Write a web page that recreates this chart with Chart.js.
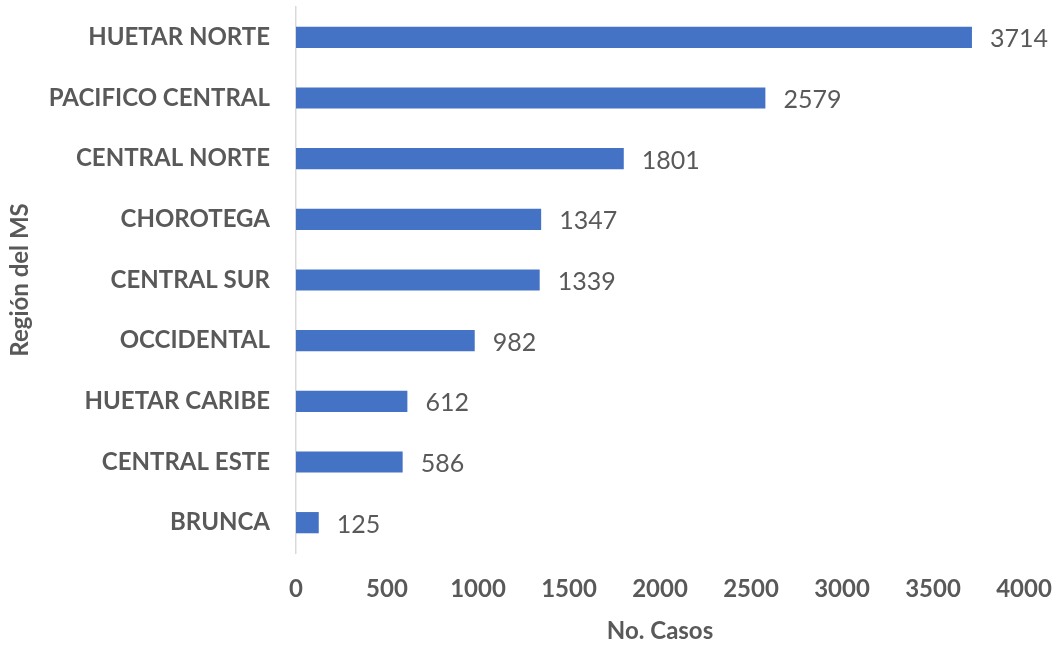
<!DOCTYPE html>
<html><head><meta charset="utf-8">
<script src="https://cdn.jsdelivr.net/npm/chart.js@4/dist/chart.umd.min.js"></script>
<style>html,body{margin:0;padding:0;background:#fff}#wrap{width:1057px;height:646px}</style>
</head><body><div id="wrap"><canvas id="c"></canvas></div>
<script>
const categories = ["HUETAR NORTE","PACIFICO CENTRAL","CENTRAL NORTE","CHOROTEGA","CENTRAL SUR","OCCIDENTAL","HUETAR CARIBE","CENTRAL ESTE","BRUNCA"];
const casos = [3714,2579,1801,1347,1339,982,612,586,125];
const xTicks = [0,500,1000,1500,2000,2500,3000,3500,4000];

const FONT = "Lato, 'Liberation Sans', sans-serif";
const GRAY = "#595959";

const labelPlugin = {
  id: 'barLabels',
  afterDatasetsDraw(chart) {
    const ctx = chart.ctx;
    const meta = chart.getDatasetMeta(0);
    ctx.save();
    ctx.font = "25px " + FONT;
    ctx.fillStyle = GRAY;
    ctx.textAlign = 'left';
    ctx.textBaseline = 'middle';
    meta.data.forEach((bar, i) => {
      ctx.fillText(String(casos[i]), bar.x + 18, bar.y + 2);
    });
    ctx.restore();
  }
};

new Chart(document.getElementById('c'), {
  type: 'bar',
  data: { labels: categories, datasets: [{ data: casos, backgroundColor: '#4472C4', borderWidth: 0, barPercentage: 0.7, categoryPercentage: 0.5 }] },
  options: {
    indexAxis: 'y',
    responsive: true,
    maintainAspectRatio: false,
    animation: false,
    layout: { padding: { top: 7, right: 0, left: 0, bottom: 0 } },
    plugins: { legend: { display: false }, tooltip: { enabled: false } },
    scales: {
      x: {
        min: 0, max: 4000,
        afterBuildTicks(scale) { scale.ticks = xTicks.map(v => ({ value: v })); },
        grid: { display: false, drawTicks: false },
        border: { display: false },
        ticks: { color: GRAY, font: { family: FONT, size: 24, weight: 'bold' }, padding: 22, maxRotation: 0, callback: (v) => String(v) },
        title: { display: true, text: 'No. Casos', color: GRAY, font: { family: FONT, size: 24, weight: 'bold' }, padding: { top: 10, bottom: 0 } },
        afterFit(scale) { scale.height = 93; scale.paddingTop = 0; scale.paddingBottom = 0; scale.paddingLeft = 0; scale.paddingRight = 33; }
      },
      y: {
        grid: { display: false, drawTicks: false },
        border: { display: true, color: '#D9D9D9', width: 1.5 },
        ticks: { color: GRAY, font: { family: FONT, size: 24, weight: 'bold' }, padding: 26 },
        title: { display: true, text: 'Región del MS', color: GRAY, font: { family: FONT, size: 24, weight: 'bold' }, padding: { top: 6, bottom: 0 } },
        afterFit(scale) { scale.width = 296; scale.paddingTop = 0; scale.paddingBottom = 0; }
      }
    }
  },
  plugins: [labelPlugin]
});
</script></body></html>
